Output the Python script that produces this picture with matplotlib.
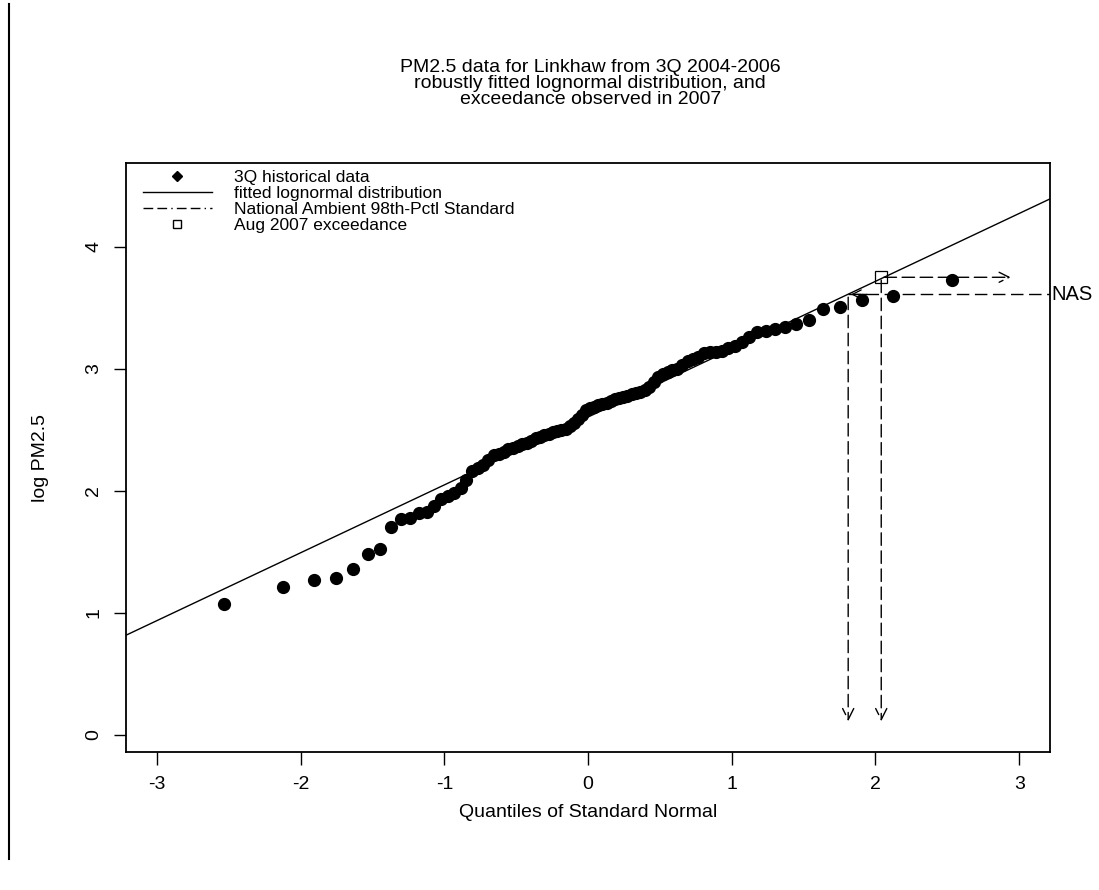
import matplotlib
matplotlib.use("Agg")
import matplotlib.pyplot as plt
from matplotlib.lines import Line2D

plt.rcParams['font.family'] = ['Liberation Sans', 'DejaVu Sans']
plt.rcParams['axes.unicode_minus'] = False

# theoretical normal quantiles (n = 88)
q_neg = [-2.53, -2.12, -1.905, -1.753, -1.634, -1.534, -1.448, -1.371, -1.301, -1.237,
         -1.178, -1.123, -1.071, -1.022, -0.975, -0.931, -0.887, -0.846, -0.806, -0.767,
         -0.729, -0.693, -0.657, -0.622, -0.587, -0.554, -0.521, -0.489, -0.457, -0.426,
         -0.395, -0.364, -0.334, -0.304, -0.274, -0.245, -0.215, -0.186, -0.157, -0.129,
         -0.100, -0.071, -0.043, -0.014]
quantiles = q_neg + [-v for v in reversed(q_neg)]

# sorted log PM2.5 values, 3Q 2004-2006
log_pm = [1.07, 1.21, 1.27, 1.29, 1.36, 1.48, 1.52, 1.70, 1.77, 1.78,
          1.82, 1.83, 1.88, 1.93, 1.96, 1.98, 2.02, 2.09, 2.16, 2.19,
          2.21, 2.25, 2.29, 2.30, 2.32, 2.34, 2.35, 2.37, 2.38, 2.39,
          2.41, 2.43, 2.44, 2.46, 2.47, 2.48, 2.49, 2.50, 2.51, 2.53,
          2.56, 2.59, 2.62, 2.66, 2.68, 2.69, 2.70, 2.71, 2.72, 2.74,
          2.75, 2.76, 2.77, 2.78, 2.79, 2.80, 2.81, 2.83, 2.85, 2.89,
          2.93, 2.96, 2.97, 2.99, 3.00, 3.03, 3.06, 3.08, 3.10, 3.13,
          3.14, 3.14, 3.15, 3.17, 3.19, 3.22, 3.26, 3.30, 3.31, 3.33,
          3.34, 3.37, 3.40, 3.49, 3.51, 3.56, 3.60, 3.73]

# robust lognormal fit (on log scale: intercept + slope * z)
fit_mu = 2.605
fit_sigma = 0.556

nas_level = 3.61       # national ambient 98th-pctl standard (log)
nas_quantile = 1.81
aug2007_q = 2.04
aug2007_val = 3.75
arrow_end_y = 0.09
arrow_end_x = 2.96

fig = plt.figure(figsize=(10.99, 8.90), dpi=100)
ax = fig.add_axes([0.1147, 0.155, 0.8408, 0.6618])
ax.set_xlim(-3.215, 3.215)
ax.set_ylim(-0.14, 4.686)

xl = ax.get_xlim()
ax.plot(xl, [fit_mu + fit_sigma * xl[0], fit_mu + fit_sigma * xl[1]], color='black', lw=1.0)
ax.plot(quantiles, log_pm, 'o', color='black', ms=8.5, mec='black')
ax.plot(aug2007_q, aug2007_val, marker='s', ms=8, mfc='none', mec='black', mew=0.9)

dash = (0, (9, 4))
# NAS horizontal from right edge to fitted line
ax.plot([nas_quantile, xl[1]], [nas_level, nas_level], color='black', lw=1.0, linestyle=dash)
ax.annotate('', xy=(nas_quantile, nas_level), xytext=(nas_quantile + 0.15, nas_level),
            arrowprops=dict(arrowstyle='->', color='black', lw=0.9, mutation_scale=16))
# verticals down to the axis
ax.annotate('', xy=(nas_quantile, arrow_end_y), xytext=(nas_quantile, nas_level),
            arrowprops=dict(arrowstyle='->', color='black', lw=1.0, linestyle=dash, mutation_scale=20))
ax.annotate('', xy=(aug2007_q, arrow_end_y), xytext=(aug2007_q, aug2007_val),
            arrowprops=dict(arrowstyle='->', color='black', lw=1.0, linestyle=dash, mutation_scale=20))
# horizontal from exceedance to the right
ax.annotate('', xy=(arrow_end_x, aug2007_val), xytext=(aug2007_q, aug2007_val),
            arrowprops=dict(arrowstyle='->', color='black', lw=1.0, linestyle=dash, mutation_scale=18))

ax.text(xl[1] + 0.01, nas_level, 'NAS', fontsize=14.5, va='center', ha='left', clip_on=False)

ax.set_xticks([-3, -2, -1, 0, 1, 2, 3])
ax.set_yticks([0, 1, 2, 3, 4])
ax.tick_params(direction='out', length=9, width=1.0, labelsize=14, pad=8)
for lab in ax.get_yticklabels():
    lab.set_rotation(90)
    lab.set_va('center')
for s in ax.spines.values():
    s.set_linewidth(1.3)

ax.set_xlabel('Quantiles of Standard Normal', fontsize=14, labelpad=8)
ax.set_ylabel('log PM2.5', fontsize=14, labelpad=26)

fig.text(0.537, 0.906, 'PM2.5 data for Linkhaw from 3Q 2004-2006\nrobustly fitted lognormal distribution, and\nexceedance observed in 2007',
         ha='center', va='center', fontsize=14, linespacing=0.92)

handles = [
    Line2D([], [], linestyle='none', marker='D', color='black', ms=5),
    Line2D([], [], color='black', lw=1.0),
    Line2D([], [], color='black', lw=1.0, linestyle=(0, (7, 3, 7, 3, 1, 3))),
    Line2D([], [], linestyle='none', marker='s', mfc='none', mec='black', ms=6),
]
labels = ['3Q historical data', 'fitted lognormal distribution',
          'National Ambient 98th-Pctl Standard', 'Aug 2007 exceedance']
ax.legend(handles, labels, loc='upper left', bbox_to_anchor=(0.016, 0.992), frameon=False,
          fontsize=12.5, handlelength=4.0, handletextpad=1.25, labelspacing=0.05, borderpad=0.1,
          borderaxespad=0)

# scan border line at far left
fig.add_artist(Line2D([0.008, 0.008], [0.035, 0.995], color='black', lw=1.5))

fig.savefig('out.png', dpi=100)
